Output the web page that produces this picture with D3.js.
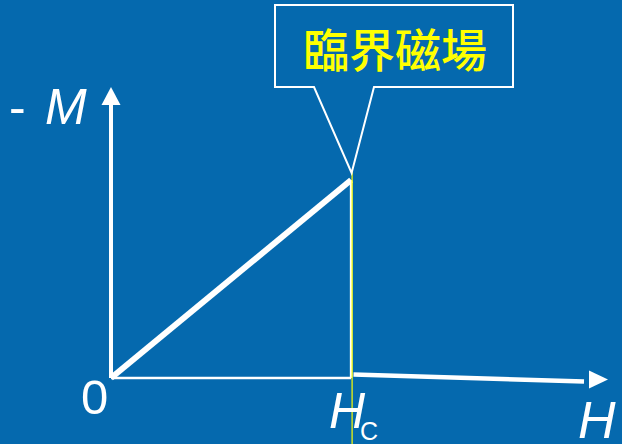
<!DOCTYPE html>
<html>
<head>
<meta charset="utf-8">
<script src="https://cdn.jsdelivr.net/npm/d3@7"></script>
<style>
  html, body { margin: 0; padding: 0; background: #0569ae; }
  svg { display: block; }
</style>
</head>
<body>
<script>
// magnetisation curve of a type I superconductor (-M against H)
var hMax = 2.07, mMax = 1.47;     // axis extents
var hc = 1;                        // critical field
var rising = [[0, 0], [1, 1]];                 // Meissner state
var drop = [[1, 1], [1, 0]];                   // collapse at Hc
var normal = [[1.01, 0.018], [1.97, -0.018]];  // normal state
var calloutText = "臨界磁場";

var width = 622, height = 444;

var svg = d3.select("body").append("svg")
    .attr("width", width)
    .attr("height", height);

svg.append("rect").attr("width", width).attr("height", height).attr("fill", "#0569ae");

var x = d3.scaleLinear().domain([0, hMax]).range([111, 608]);
var y = d3.scaleLinear().domain([0, mMax]).range([378, 87]);

var line = d3.line().x(function(d){ return x(d[0]); }).y(function(d){ return y(d[1]); });

// axes
svg.append("line")
    .attr("x1", x(0)).attr("y1", y(0))
    .attr("x2", x(0)).attr("y2", y(mMax) + 16)
    .attr("stroke", "#fff").attr("stroke-width", 4);
svg.append("path")
    .attr("d", "M" + x(0) + "," + y(mMax) + "L" + (x(0) - 9.5) + "," + (y(mMax) + 18) + "L" + (x(0) + 9.5) + "," + (y(mMax) + 18) + "Z")
    .attr("fill", "#fff");

svg.append("line")
    .attr("x1", x(0)).attr("y1", y(0))
    .attr("x2", x(hc)).attr("y2", y(0))
    .attr("stroke", "#fff").attr("stroke-width", 2.5);
svg.append("path")
    .attr("d", "M" + x(hMax) + "," + (y(0) + 1.5) + "L" + (x(hMax) - 19) + "," + (y(0) - 7.5) + "L" + (x(hMax) - 19) + "," + (y(0) + 10.5) + "Z")
    .attr("fill", "#fff");

// curve
svg.append("path").attr("d", line(rising))
    .attr("stroke", "#fff").attr("stroke-width", 6).attr("fill", "none");
svg.append("path").attr("d", line(drop))
    .attr("stroke", "#fff").attr("stroke-width", 2.5).attr("fill", "none");
svg.append("path").attr("d", line(normal))
    .attr("stroke", "#fff").attr("stroke-width", 4.5).attr("fill", "none");

// yellow marker at Hc
svg.append("line")
    .attr("x1", x(hc) + 1).attr("y1", 172)
    .attr("x2", x(hc) + 1).attr("y2", height)
    .attr("stroke", "#ffff00").attr("stroke-width", 1.2);

// callout
var bx0 = 275, bx1 = 513, by0 = 5, by1 = 87;
svg.append("path")
    .attr("d", "M" + bx0 + "," + by0 + "H" + bx1 + "V" + by1 + "H374L" + (x(hc) + 0.5) + ",173L314," + by1 + "H" + bx0 + "Z")
    .attr("fill", "#0569ae").attr("stroke", "#fff").attr("stroke-width", 2);
svg.append("text")
    .attr("x", 395).attr("y", 67)
    .attr("text-anchor", "middle")
    .attr("font-family", "'Noto Sans CJK TC', sans-serif")
    .attr("font-size", 46)
    .attr("font-weight", 500)
    .attr("fill", "#ffff00")
    .text(calloutText);

// labels
var font = "'Liberation Sans', Arial, sans-serif";
svg.append("text").attr("x", 9).attr("y", 124)
    .attr("font-family", font).attr("font-size", 50).attr("fill", "#fff")
    .text("-");
svg.append("text").attr("x", 45).attr("y", 124)
    .attr("font-family", font).attr("font-size", 50).attr("font-style", "italic").attr("fill", "#fff")
    .text("M");
svg.append("text").attr("x", x(0) - 30).attr("y", 414)
    .attr("font-family", font).attr("font-size", 49).attr("fill", "#fff")
    .text("0");
svg.append("text").attr("x", x(hc) - 22).attr("y", 428)
    .attr("font-family", font).attr("font-size", 50).attr("font-style", "italic").attr("fill", "#fff")
    .text("H");
svg.append("text").attr("x", x(hc) + 9).attr("y", 440)
    .attr("font-family", font).attr("font-size", 25).attr("fill", "#fff")
    .text("C");
svg.append("text").attr("x", 578).attr("y", 438)
    .attr("font-family", font).attr("font-size", 52).attr("font-style", "italic").attr("fill", "#fff")
    .text("H");
</script>
</body>
</html>
